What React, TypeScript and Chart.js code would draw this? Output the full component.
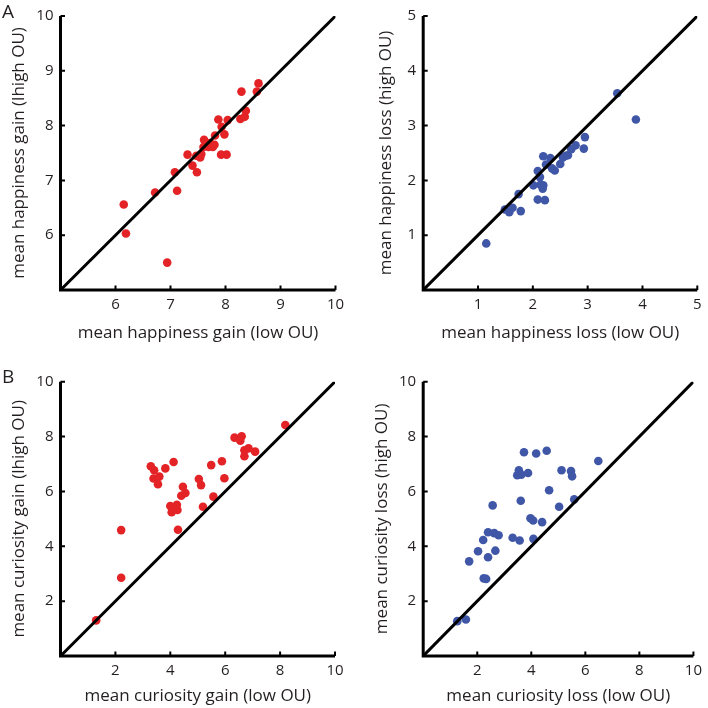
import React, { useEffect, useRef } from 'react';
import { Chart, registerables } from 'chart.js';

Chart.register(...registerables);

// ---- Data ----
// Panel A, left: mean happiness gain
const happinessGainLow = [6.15, 6.19, 6.72, 6.94, 7.08, 7.12, 7.31, 7.40, 7.48, 7.47, 7.54, 7.56, 7.61, 7.65, 7.69, 7.72, 7.77, 7.80, 7.81, 7.87, 7.92, 7.93, 7.98, 8.02, 8.04, 8.27, 8.29, 8.35, 8.37, 8.57, 8.60, 7.60];
const happinessGainHigh = [6.56, 6.03, 6.78, 5.50, 7.15, 6.81, 7.47, 7.27, 7.15, 7.45, 7.42, 7.48, 7.74, 7.65, 7.61, 7.68, 7.61, 7.65, 7.82, 8.11, 7.47, 7.98, 7.84, 7.47, 8.10, 8.12, 8.62, 8.16, 8.27, 8.62, 8.77, 7.61];

// Panel A, right: mean happiness loss
const happinessLossLow = [1.15, 1.49, 1.57, 1.63, 1.78, 1.74, 2.01, 2.09, 2.09, 2.13, 2.14, 2.19, 2.19, 2.18, 2.22, 2.24, 2.32, 2.35, 2.40, 2.50, 2.55, 2.60, 2.64, 2.70, 2.78, 2.93, 2.95, 3.54, 3.88];
const happinessLossHigh = [0.85, 1.47, 1.42, 1.50, 1.44, 1.75, 1.91, 2.17, 1.65, 2.06, 1.92, 2.44, 1.91, 1.85, 1.64, 2.29, 2.41, 2.22, 2.18, 2.30, 2.42, 2.45, 2.46, 2.57, 2.64, 2.58, 2.79, 3.59, 3.11];

// Panel B, left: mean curiosity gain
const curiosityGainLow = [1.30, 2.21, 2.21, 3.29, 3.41, 3.39, 3.60, 3.55, 3.82, 4.12, 4.00, 4.05, 4.24, 4.26, 4.28, 4.46, 4.40, 4.55, 5.04, 5.12, 5.19, 5.49, 5.57, 5.88, 5.97, 6.34, 6.60, 6.55, 6.70, 6.70, 6.85, 7.09, 8.19];
const curiosityGainHigh = [1.30, 4.59, 2.85, 6.92, 6.77, 6.47, 6.54, 6.26, 6.84, 7.07, 5.47, 5.24, 5.51, 5.32, 4.60, 6.17, 5.84, 5.94, 6.45, 6.23, 5.44, 6.96, 5.81, 7.10, 6.48, 7.96, 8.01, 7.85, 7.50, 7.28, 7.57, 7.45, 8.42];

// Panel B, right: mean curiosity loss
const curiosityLossLow = [1.26, 1.58, 1.70, 2.03, 2.22, 2.24, 2.33, 2.40, 2.40, 2.57, 2.63, 2.67, 2.79, 3.31, 3.57, 3.48, 3.54, 3.63, 3.61, 3.73, 3.88, 3.97, 4.07, 4.08, 4.18, 4.40, 4.57, 4.66, 5.03, 5.12, 5.47, 5.51, 5.59, 6.48];
const curiosityLossHigh = [1.27, 1.33, 3.45, 3.82, 4.23, 2.83, 2.81, 4.51, 3.60, 5.49, 4.48, 3.84, 4.40, 4.31, 4.21, 6.59, 6.77, 6.61, 5.66, 7.43, 6.67, 5.02, 4.94, 4.27, 7.38, 4.88, 7.48, 6.04, 5.44, 6.77, 6.74, 6.55, 5.71, 7.11];

// Tick values
const happinessGainTicks = [6, 7, 8, 9, 10];
const happinessLossTicks = [1, 2, 3, 4, 5];
const curiosityTicks = [2, 4, 6, 8, 10];

const RED = 'rgb(227,35,38)';
const BLUE = 'rgb(64,87,168)';
const INK = '#231f20';
const FONT = "'Open Sans', 'Noto Sans', sans-serif";

const axesPlugin = {
  id: 'lAxes',
  afterDraw(chart: any) {
    const { ctx, chartArea } = chart;
    const xs = chart.scales.x;
    const ys = chart.scales.y;
    const left = chartArea.left;
    const bottom = chartArea.bottom;
    ctx.save();
    ctx.strokeStyle = '#000';
    ctx.lineWidth = 3;
    ctx.lineJoin = 'miter';
    ctx.lineCap = 'butt';
    ctx.beginPath();
    ctx.moveTo(left, ys.getPixelForValue(ys.max));
    ctx.lineTo(left, bottom);
    ctx.lineTo(xs.getPixelForValue(xs.max), bottom);
    ctx.stroke();
    ctx.lineWidth = 2;
    ctx.beginPath();
    xs.ticks.forEach((t: any) => {
      const px = xs.getPixelForValue(t.value);
      ctx.moveTo(px, bottom);
      ctx.lineTo(px, bottom - 4.5);
    });
    ys.ticks.forEach((t: any) => {
      const py = ys.getPixelForValue(t.value);
      ctx.moveTo(left, py);
      ctx.lineTo(left + 4.5, py);
    });
    ctx.stroke();
    ctx.restore();
  },
};

type PanelProps = {
  left: number;
  top: number;
  w: number;
  h: number;
  xs: number[];
  ys: number[];
  color: string;
  min: number;
  max: number;
  ticks: number[];
  xTitle: string;
  yTitle: string;
  padTop: number;
  padRight: number;
  yWidth: number;
  xHeight: number;
  yTitlePad: number;
  xTitlePad: number;
};

function Panel(p: PanelProps) {
  const ref = useRef<HTMLCanvasElement>(null);
  useEffect(() => {
    const points = p.xs.map((v, i) => ({ x: v, y: p.ys[i] }));
    const tickFont = { family: FONT, size: 15, lineHeight: 1.2 };
    const titleFont = { family: FONT, size: 17, lineHeight: 1.2 };
    const chart = new Chart(ref.current as HTMLCanvasElement, {
      type: 'scatter',
      data: {
        datasets: [
          {
            data: [
              { x: p.min, y: p.min },
              { x: p.max, y: p.max },
            ],
            showLine: true,
            borderColor: '#000',
            borderWidth: 3,
            pointRadius: 0,
            order: 0,
          } as any,
          {
            data: points,
            backgroundColor: p.color,
            borderWidth: 0,
            pointRadius: 4.3,
            order: 1,
          },
        ],
      },
      options: {
        animation: false,
        responsive: false,
        devicePixelRatio: 1,
        events: [],
        layout: { padding: { left: 0, top: p.padTop, right: p.padRight, bottom: 0 } },
        plugins: { legend: { display: false }, tooltip: { enabled: false } },
        scales: {
          x: {
            type: 'linear',
            min: p.min,
            max: p.max,
            grid: { display: false, drawTicks: false },
            border: { display: false },
            afterBuildTicks: (s: any) => {
              s.ticks = p.ticks.map((v) => ({ value: v }));
            },
            afterFit: (s: any) => {
              s.height = p.xHeight;
            },
            ticks: { font: tickFont, color: INK, padding: 6, maxRotation: 0, autoSkip: false },
            title: { display: true, text: p.xTitle, font: titleFont, color: INK, padding: { top: 0, bottom: p.xTitlePad } },
          },
          y: {
            type: 'linear',
            min: p.min,
            max: p.max,
            grid: { display: false, drawTicks: false },
            border: { display: false },
            afterBuildTicks: (s: any) => {
              s.ticks = p.ticks.map((v) => ({ value: v }));
            },
            afterFit: (s: any) => {
              s.width = p.yWidth;
            },
            ticks: { font: tickFont, color: INK, padding: 7, autoSkip: false },
            title: { display: true, text: p.yTitle, font: titleFont, color: INK, padding: { top: p.yTitlePad, bottom: 0 } },
          },
        },
      },
      plugins: [axesPlugin],
    } as any);
    return () => chart.destroy();
  }, []);
  return (
    <canvas
      ref={ref}
      width={p.w}
      height={p.h}
      style={{ position: 'absolute', left: p.left, top: p.top, width: p.w, height: p.h, display: 'block' }}
    />
  );
}

export default function App() {
  const letter: React.CSSProperties = {
    position: 'absolute',
    fontFamily: FONT,
    fontSize: 19,
    lineHeight: 1,
    color: INK,
    left: 2,
  };
  return (
    <div style={{ position: 'absolute', left: 0, top: 0, width: 708, height: 708, background: '#fff', overflow: 'hidden' }}>
      <Panel
        left={0} top={0} w={354} h={345}
        xs={happinessGainLow} ys={happinessGainHigh} color={RED}
        min={5} max={10} ticks={happinessGainTicks}
        xTitle="mean happiness gain (low OU)" yTitle="mean happiness gain (lhigh OU)"
        padTop={15} padRight={18.5} yWidth={60.5} xHeight={55} yTitlePad={8.8} xTitlePad={1.8}
      />
      <Panel
        left={354} top={0} w={354} h={345}
        xs={happinessLossLow} ys={happinessLossHigh} color={BLUE}
        min={0} max={5} ticks={happinessLossTicks}
        xTitle="mean happiness loss (low OU)" yTitle="mean happiness loss (high OU)"
        padTop={15} padRight={10.7} yWidth={69.2} xHeight={55} yTitlePad={21.8} xTitlePad={1.8}
      />
      <Panel
        left={0} top={345} w={354} h={363}
        xs={curiosityGainLow} ys={curiosityGainHigh} color={RED}
        min={0} max={10} ticks={curiosityTicks}
        xTitle="mean curiosity gain (low OU)" yTitle="mean curiosity gain (lhigh OU)"
        padTop={36.7} padRight={19} yWidth={60.5} xHeight={52} yTitlePad={8.8} xTitlePad={2.1}
      />
      <Panel
        left={354} top={345} w={354} h={363}
        xs={curiosityLossLow} ys={curiosityLossHigh} color={BLUE}
        min={0} max={10} ticks={curiosityTicks}
        xTitle="mean curiosity loss (low OU)" yTitle="mean curiosity loss (high OU)"
        padTop={36.7} padRight={9} yWidth={69.2} xHeight={52} yTitlePad={17.8} xTitlePad={2.1}
      />
      <div style={{ ...letter, top: 2 }}>A</div>
      <div style={{ ...letter, top: 367 }}>B</div>
    </div>
  );
}
